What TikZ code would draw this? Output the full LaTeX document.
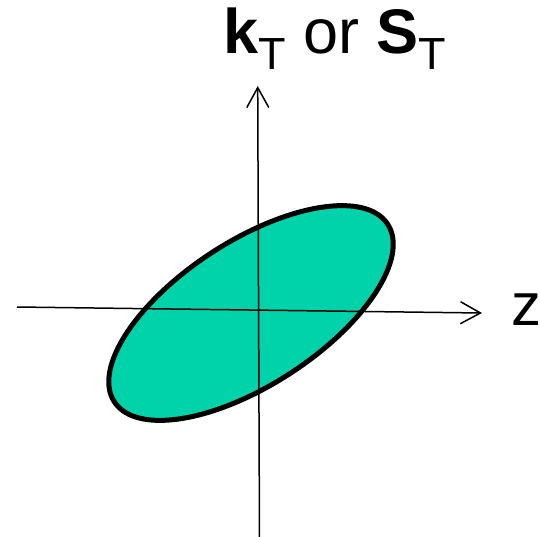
\documentclass[tikz,border=0pt]{standalone}
\usepackage{fontspec}
\setmainfont{Liberation Sans}
\usetikzlibrary{arrows.meta}
\definecolor{ellfill}{RGB}{0,210,170}
\begin{document}
\begin{tikzpicture}[x=1pt,y=1pt,
  axis/.style={line width=1.5pt,-{Straight Barb[length=20pt,width=22pt,line width=1.5pt]}},
  ell/.style={fill=ellfill,draw=black,line width=5pt}]
\useasboundingbox (0,0) rectangle (540,-536);
\draw[ell] (251,-313) ellipse[x radius=163,y radius=72,rotate=33];
\coordinate (hl) at (17,-307);
\coordinate (hr) at (482,-313);
\coordinate (vb) at (259.5,-540);
\coordinate (vt) at (257.7,-86);
\draw[axis] (hl) -- (hr);
\draw[axis] (vb) -- (vt);
\node[anchor=base west,inner sep=0pt,font=\fontsize{63}{63}\selectfont] (lab) at (223,-53)
  {\textbf{k}\raisebox{-16pt}{\fontsize{45}{45}\selectfont T} or \textbf{S}\raisebox{-16pt}{\fontsize{45}{45}\selectfont T}};
\node[anchor=base west,inner sep=0pt,font=\fontsize{60}{60}\selectfont] (zl) at (511,-325) {z};
\end{tikzpicture}
\end{document}
